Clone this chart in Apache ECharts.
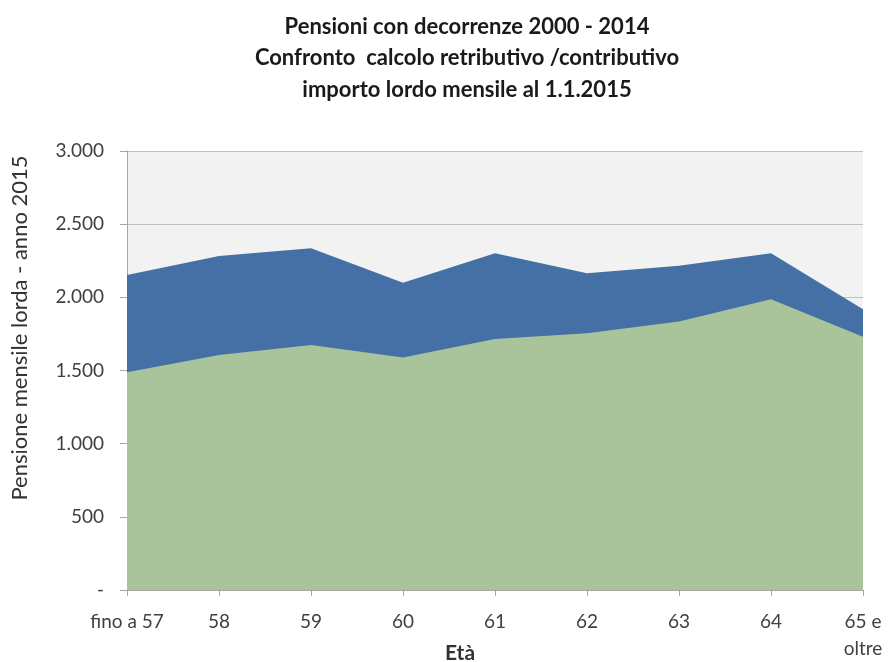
<!DOCTYPE html>
<html><head><meta charset="utf-8">
<script src="https://cdn.jsdelivr.net/npm/echarts@6/dist/echarts.min.js"></script>
<style>html,body{margin:0;padding:0;background:#fff}#c{width:888px;height:662px}</style>
</head><body><div id="c"></div>
<script>
const categories = ['fino a 57','58','59','60','61','62','63','64','65 e\noltre'];
const retributivo = [2153,2282,2335,2100,2301,2164,2216,2301,1918];
const contributivo = [1488,1606,1674,1588,1715,1754,1834,1987,1731];
const yTicks = [0,500,1000,1500,2000,2500,3000];
const titleLines = ['Pensioni con decorrenze 2000 - 2014','Confronto  calcolo retributivo /contributivo','importo lordo mensile al 1.1.2015'];
const yName = 'Pensione mensile lorda - anno 2015';
const xName = 'Età';

const FONT = 'Lato';
const chart = echarts.init(document.getElementById('c'), null, {renderer:'canvas'});
function fmt(v){ if(v===0) return '-'; return String(v).replace(/\B(?=(\d{3})+(?!\d))/g,'.'); }
chart.setOption({
  animation:false,
  title:{text:titleLines.join('\n'), left:462, top:6, textAlign:'center',
    textStyle:{fontFamily:FONT,fontWeight:'bold',fontSize:22,color:'#1a1a1a',lineHeight:31.5}},
  grid:{left:127,right:25,top:151,bottom:72,containLabel:false,outerBoundsMode:'none',
    backgroundColor:'#f2f2f2',show:true,borderWidth:0},
  graphic:[
    {type:'text',x:20,y:328,rotation:Math.PI/2,
     style:{text:yName,fontFamily:FONT,fontSize:22,fill:'#333333',align:'center',verticalAlign:'middle'}},
    {type:'text',x:460,y:653,
     style:{text:xName,fontFamily:FONT,fontSize:21,fontWeight:'bold',fill:'#333333',align:'center',verticalAlign:'middle'}}
  ],
  xAxis:{type:'category',data:categories,boundaryGap:false,
    axisLine:{lineStyle:{color:'#a6a6a6',width:1}},
    axisTick:{show:true,length:6,lineStyle:{color:'#a6a6a6'}},
    axisLabel:{fontFamily:FONT,fontSize:19,color:'#404040',margin:18,lineHeight:27,interval:0},
    splitLine:{show:false}},
  yAxis:{type:'value',min:0,max:3000,interval:500,
    axisLine:{show:true,lineStyle:{color:'#a6a6a6'}},
    axisTick:{show:true,length:7,lineStyle:{color:'#a6a6a6'}},
    axisLabel:{fontFamily:FONT,fontSize:19,color:'#404040',margin:23,formatter:fmt},
    splitLine:{show:true,lineStyle:{color:'#bfbfbf',width:1}}},
  series:[
    {name:'retributivo',type:'line',data:retributivo,symbol:'none',lineStyle:{width:0},
     areaStyle:{color:'#4470a5',opacity:1},z:2},
    {name:'contributivo',type:'line',data:contributivo,symbol:'none',lineStyle:{width:0},
     areaStyle:{color:'#a9c49a',opacity:1},z:3}
  ]
});
</script></body></html>
